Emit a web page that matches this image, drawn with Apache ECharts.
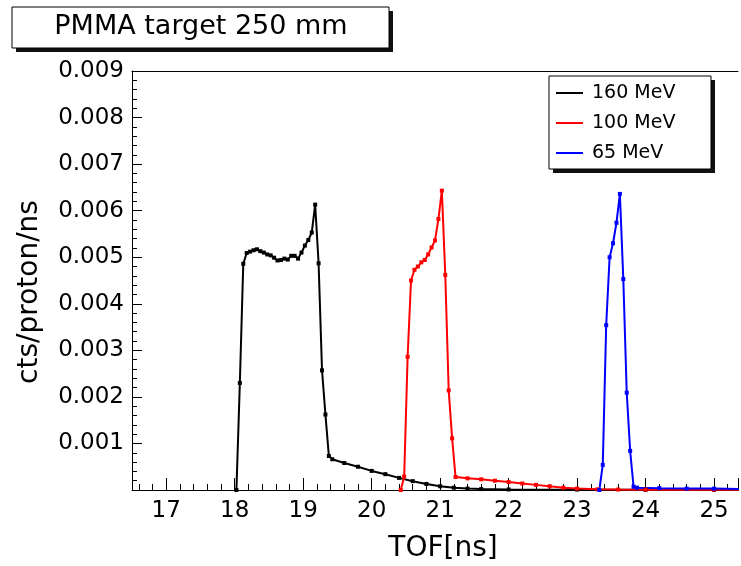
<!DOCTYPE html>
<html>
<head>
<meta charset="utf-8">
<title>PMMA target 250 mm</title>
<script src="https://cdn.jsdelivr.net/npm/echarts@6/dist/echarts.min.js"></script>
<style>
html, body { margin: 0; padding: 0; background: #fff; }
#chart { width: 741px; height: 566px; }
</style>
</head>
<body>
<div id="chart"></div>
<script>
// values (TOF in ns, counts per proton per ns)
var tof160 = [18.025, 18.075, 18.125, 18.175, 18.225, 18.275, 18.325, 18.375, 18.425, 18.475,
	18.525, 18.575, 18.625, 18.675, 18.725, 18.775, 18.825, 18.875, 18.925, 18.975,
	19.025, 19.075, 19.125, 19.175, 19.225, 19.275, 19.325, 19.375,
	19.425, 19.6, 19.8, 20.0, 20.2, 20.4, 20.6, 20.8, 21.0, 21.2, 21.4, 21.6, 22.0, 23.0, 24.0, 25.0, 25.4];
var cts160 = [0, 0.0023, 0.00486, 0.00509, 0.00512, 0.00515, 0.00517, 0.00513, 0.0051, 0.00506,
	0.00504, 0.00499, 0.00493, 0.00494, 0.00497, 0.00495, 0.00503, 0.00503, 0.00497, 0.0051,
	0.00525, 0.00537, 0.00553, 0.00613, 0.00487, 0.00257, 0.00162, 0.00073,
	0.00066, 0.00058, 0.0005, 0.00041, 0.00034, 0.00026, 0.00019, 0.00013, 0.00008, 0.00005, 0.00003, 0.00002, 0.000012, 0.000008, 0.000005, 0.000004, 0.000003];

var tof100 = [20.425, 20.475, 20.525, 20.575, 20.625, 20.675, 20.725, 20.775, 20.825, 20.875,
	20.925, 20.975, 21.025, 21.075, 21.125, 21.175, 21.225,
	21.4, 21.6, 21.8, 22.0, 22.2, 22.4, 22.6, 22.8, 23.0, 23.3, 23.6, 24.0, 25.0, 25.4];
var cts100 = [0, 0.00029, 0.00286, 0.0045, 0.00473, 0.0048, 0.00489, 0.00494, 0.00506, 0.00521,
	0.00536, 0.00582, 0.00643, 0.00462, 0.00214, 0.00111, 0.00028,
	0.00025, 0.00023, 0.0002, 0.00017, 0.00014, 0.00011, 0.00008, 0.00005, 0.00003, 0.000015, 0.00001, 0.000008, 0.000006, 0.000005];

var tof65 = [23.325, 23.375, 23.425, 23.475, 23.525, 23.575, 23.625, 23.675, 23.725, 23.775, 23.825,
	23.875, 24.2, 24.6, 25.0, 25.4];
var cts65 = [0, 0.00054, 0.00354, 0.005, 0.0053, 0.00574, 0.00636, 0.00453, 0.00209, 0.00084, 0.00007,
	0.00005, 0.00004, 0.00003, 0.00003, 0.00002];

var seriesNames = ['160 MeV', '100 MeV', '65 MeV'];
var xLabels = [17, 18, 19, 20, 21, 22, 23, 24, 25];
var yLabels = ['', '0.001', '0.002', '0.003', '0.004', '0.005', '0.006', '0.007', '0.008', '0.009'];

var FONT = 'DejaVu Sans';

var toPairs = function(xs, ys){
	var out = [];
	for (var i = 0; i < xs.length; i++) out.push([xs[i], ys[i]]);
	return out;
}

var makeLine = function(name, xs, ys, color){
	return {
		name: name,
		type: 'line',
		data: toPairs(xs, ys),
		symbol: 'rect',
		symbolSize: 4,
		showSymbol: true,
		lineStyle: { color: color, width: 2 },
		itemStyle: { color: color },
		emphasis: { disabled: true }
	};
}

var chart = echarts.init(document.getElementById('chart'));

chart.setOption({
	animation: false,
	backgroundColor: '#fff',
	grid: { left: 132, right: 0, top: 71, bottom: 76 },
	legend: {
		orient: 'vertical',
		left: 556, top: 83,
		padding: 0,
		itemWidth: 27, itemHeight: 2, itemGap: 10,
		icon: 'rect',
		data: seriesNames,
		textStyle: { fontFamily: FONT, fontSize: 19, color: '#000', lineHeight: 20, padding: [0, 0, 0, 4] },
		z: 20
	},
	xAxis: [{
		type: 'value',
		min: 16.5, max: 25.35, splitNumber: 9,
		axisLine: { lineStyle: { color: '#000', width: 1 } },
		axisTick: { inside: true, length: 12, lineStyle: { color: '#000' } },
		minorTick: { show: true, splitNumber: 5, length: 6, lineStyle: { color: '#000' } },
		splitLine: { show: false },
		axisLabel: {
			fontFamily: FONT, fontSize: 23, color: '#000', margin: 10,
			formatter: function(v){
				for (var i = 0; i < xLabels.length; i++) {
					if (Math.abs(v - xLabels[i]) < 1e-6) return String(xLabels[i]);
				}
				return '';
			}
		}
	}, {
		// top frame line only
		type: 'value', position: 'top',
		min: 16.5, max: 25.35,
		axisLine: { show: true, lineStyle: { color: '#000', width: 1 } },
		axisTick: { show: false },
		axisLabel: { show: false },
		splitLine: { show: false }
	}],
	yAxis: {
		type: 'value',
		min: 0, max: 0.009, interval: 0.001,
		axisLine: { lineStyle: { color: '#000', width: 1 } },
		axisTick: { inside: true, length: 10, lineStyle: { color: '#000' } },
		minorTick: { show: true, splitNumber: 5, length: 5, lineStyle: { color: '#000' } },
		splitLine: { show: false },
		axisLabel: {
			fontFamily: FONT, fontSize: 23, color: '#000', margin: 8,
			formatter: function(v){
				return yLabels[Math.round(v / 0.001)] || '';
			}
		}
	},
	graphic: [
		// title box with its shadow
		{ type: 'rect', shape: { x: 16, y: 11, width: 377, height: 41 }, style: { fill: '#111' }, z: 5 },
		{ type: 'rect', shape: { x: 12, y: 7, width: 377, height: 41 }, style: { fill: '#fff', stroke: '#000', lineWidth: 1 }, z: 6 },
		{ type: 'text', x: 201, y: 27, z: 7,
			style: { text: 'PMMA target 250 mm', fontFamily: FONT, fontSize: 27, fill: '#000', align: 'center', verticalAlign: 'middle' } },
		// legend box with its shadow
		{ type: 'rect', shape: { x: 553, y: 80, width: 162, height: 93 }, style: { fill: '#111' }, z: 5 },
		{ type: 'rect', shape: { x: 549, y: 76, width: 162, height: 93 }, style: { fill: '#fff', stroke: '#000', lineWidth: 1 }, z: 6 },
		// axis titles
		{ type: 'text', x: 30, y: 292, rotation: Math.PI / 2, z: 7,
			style: { text: 'cts/proton/ns', fontFamily: FONT, fontSize: 28, fill: '#000', align: 'center', verticalAlign: 'middle' } },
		{ type: 'text', x: 443, y: 549, z: 7,
			style: { text: 'TOF[ns]', fontFamily: FONT, fontSize: 28, fill: '#000', align: 'center', verticalAlign: 'middle' } }
	],
	series: [
		makeLine(seriesNames[0], tof160, cts160, '#000000'),
		makeLine(seriesNames[1], tof100, cts100, '#ff0000'),
		makeLine(seriesNames[2], tof65, cts65, '#0000ff')
	]
});
</script>
</body>
</html>
